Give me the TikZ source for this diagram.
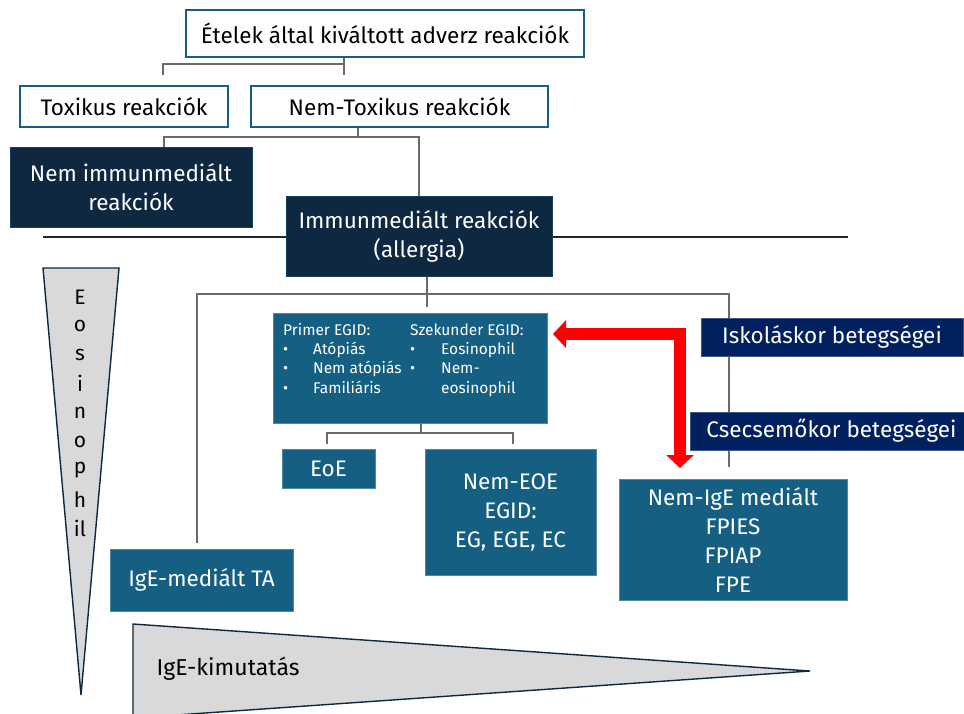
\documentclass[tikz,border=0pt]{standalone}
\usepackage{fontspec}
\setmainfont{Fira Sans}
\usetikzlibrary{arrows.meta,backgrounds}

\definecolor{tealbox}{HTML}{156082}
\definecolor{navybox}{HTML}{0E2841}
\definecolor{darkblue}{HTML}{002060}
\definecolor{linegray}{HTML}{6A6A6A}
\definecolor{trigray}{HTML}{D9D9D9}
\definecolor{arrowred}{HTML}{FF0000}

\tikzset{
  topbox/.style={draw=tealbox, line width=1.3pt, fill=white, align=center, inner sep=0pt, font=\fontsize{22.5}{28}\selectfont},
  navynode/.style={fill=navybox, draw=tealbox!45!navybox, line width=0.8pt, text=white, align=center, inner sep=0pt, font=\fontsize{22.5}{29}\selectfont},
  tealnode/.style={fill=tealbox, draw=tealbox!75!white, line width=0.6pt, text=white, align=center, inner sep=0pt, font=\fontsize{22.5}{29}\selectfont},
  bluenode/.style={fill=darkblue, draw=darkblue!75!white, line width=0.6pt, text=white, align=center, inner sep=0pt, font=\fontsize{22.5}{29}\selectfont},
  conn/.style={draw=linegray, line width=1.2pt},
  tri/.style={fill=trigray, draw=navybox, line width=1.4pt, line join=miter},
  redarrow/.style={draw=arrowred, line width=12pt, line join=miter,
    {Triangle[width=27pt,length=13pt]}-{Triangle[width=27pt,length=13pt]}}
}

\begin{document}
\begin{tikzpicture}[x=1pt,y=-1pt]
  \useasboundingbox (0,0) rectangle (964,713);

  % triangles
  \draw[tri] (43,268) -- (119,268) -- (81,695) -- cycle;
  \foreach \l [count=\i] in {E,o,s,i,n,o,p,h,il}
    \node[font=\fontsize{21}{24}\selectfont] (eo\i) at (80,{297+28.9*(\i-1)}) {\l};
  \draw[tri] (133,624) -- (810,671) -- (133,718) -- cycle;
  \node[anchor=west, font=\fontsize{23}{26}\selectfont] (igek) at (153,669) {IgE-kimutatás};

  % boxes
  \node[topbox, minimum width=398pt, minimum height=47pt] (etel) at (385,33.5) {Ételek által kiváltott adverz reakciók};
  \node[topbox, minimum width=208pt, minimum height=41pt] (tox) at (124,106.5) {Toxikus reakciók};
  \node[topbox, minimum width=297pt, minimum height=41pt] (nemtox) at (399.5,106.5) {Nem-Toxikus reakciók};
  \node[navynode, minimum width=242pt, minimum height=80pt] (nemimm) at (131,187) {Nem immunmediált\\reakciók};
  \node[navynode, minimum width=266pt, minimum height=80pt] (imm) at (419,236) {Immunmediált reakciók\\(allergia)};

  \node[tealnode, minimum width=274pt, minimum height=110pt] (egid) at (410,368) {};
  \node[anchor=north west, inner sep=0pt, text=white, font=\fontsize{15.5}{19.3}\selectfont] (prim) at (283,321.5)
    {\begin{tabular}{@{}p{30pt}@{}l@{}}
      \multicolumn{2}{@{}l@{}}{Primer EGID:}\\
      \textbullet & Atópiás\\
      \textbullet & Nem atópiás\\
      \textbullet & Familiáris
    \end{tabular}};
  \node[anchor=north west, inner sep=0pt, text=white, font=\fontsize{15.5}{19.3}\selectfont] (szek) at (410,321.5)
    {\begin{tabular}{@{}p{31pt}@{}l@{}}
      \multicolumn{2}{@{}l@{}}{Szekunder EGID:}\\
      \textbullet & Eosinophil\\
      \textbullet & Nem-\\
       & eosinophil
    \end{tabular}};

  \node[tealnode, minimum width=93pt, minimum height=39pt] (eoe) at (328.5,468.5) {EoE};
  \node[tealnode, minimum width=171pt, minimum height=126pt] (nemeoe) at (510.5,512) {Nem-EOE\\EGID:\\EG, EGE, EC};
  \node[tealnode, minimum width=228pt, minimum height=121pt] (nemige) at (733,539.5) {Nem-IgE mediált\\FPIES\\FPIAP\\FPE};
  \node[tealnode, minimum width=183pt, minimum height=62pt] (igeta) at (201.5,580) {IgE-mediált TA};

  \node[bluenode, minimum width=262pt, minimum height=38pt] (isk) at (832,337) {Iskoláskor betegségei};
  \node[bluenode, minimum width=283pt, minimum height=38pt] (csec) at (831.5,431) {Csecsemőkor betegségei};

  % red arrow
  \coordinate (ra) at (553,334);
  \coordinate (rb) at (680,468);
  \draw[redarrow] (ra) -| (rb);

  % connectors behind the boxes
  \coordinate (s1) at (163,75);
  \coordinate (s2) at (344,75);
  \coordinate (s3) at (164,147);
  \coordinate (s4) at (197,543);
  \coordinate (s5) at (729,467);
  \coordinate (s6) at (427,307);
  \coordinate (s7) at (327,444);
  \coordinate (s8) at (513,444);
  \begin{scope}[on background layer]
    \fill[white] (0,0) rectangle (964,713);
    \draw[line width=1.6pt, black!85] (43,237) -- (848,237);
    \draw[conn] (etel.south -| s2) -- (s2);
    \draw[conn] (s1) |- (344,64);
    \draw[conn] (nemtox.south -| 358,0) -- (358,137);
    \draw[conn] (s3) |- (imm.north |- 0,137) -- (imm.north);
    \draw[conn] (imm.south -| s6) -- (s6);
    \draw[conn] (s4) |- (s5 |- 0,294) -- (s5);
    \draw[conn] (egid.south -| 421,0) -- (421,433);
    \draw[conn] (s7) |- (s8 |- 0,433) -- (s8);
  \end{scope}
\end{tikzpicture}
\end{document}
